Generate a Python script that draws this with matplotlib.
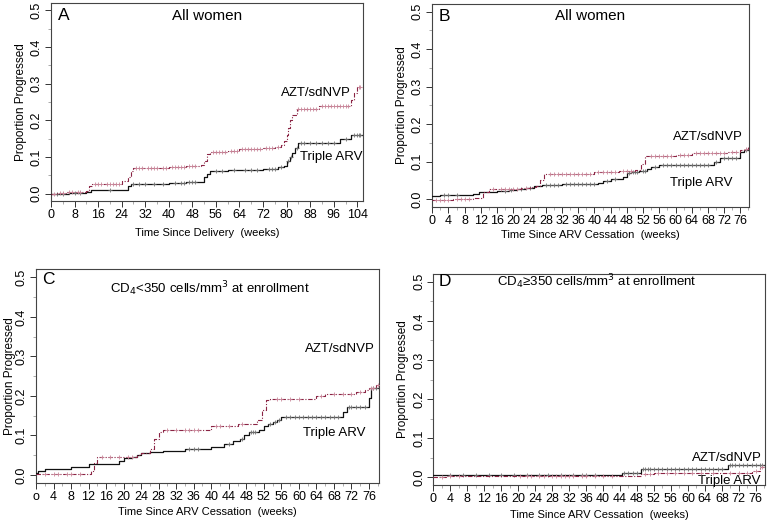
import numpy as np
import matplotlib
matplotlib.use("Agg")
import matplotlib.pyplot as plt
from matplotlib.ticker import MultipleLocator

plt.rcParams['font.family'] = ['Liberation Sans', 'DejaVu Sans']

# ---- data: step curves (time in weeks, proportion progressed) ----
# panel A, time since delivery
A_azt_t = [0, 2, 5, 8, 12, 13, 14, 24, 26, 27, 28, 40, 46, 51, 52, 53, 54, 60, 64, 72, 76,
           78, 79, 80, 80.5, 81, 82, 83.5, 91, 102, 103, 104]
A_azt_y = [0, 0.002, 0.004, 0.006, 0.008, 0.02, 0.028, 0.034, 0.045, 0.062, 0.07, 0.073, 0.076,
           0.079, 0.09, 0.108, 0.115, 0.118, 0.121, 0.124, 0.127, 0.133, 0.145, 0.16, 0.18, 0.2,
           0.215, 0.232, 0.24, 0.255, 0.275, 0.29]
A_azt_cens = [1, 3, 4, 6, 7, 9, 10, 15, 16, 17, 19, 20, 21, 22, 23, 29, 30, 31, 33, 34, 35, 36, 38,
              39, 41, 42, 43, 44, 45, 47, 48, 49, 55, 56, 57, 58, 59, 61, 62, 63, 65, 66, 67, 68,
              69, 70, 71, 73, 74, 75, 77, 84, 85, 86, 87, 88, 89, 90, 92, 93, 94, 95, 96, 97, 98,
              99, 100, 101, 104.5, 105]
A_tri_t = [0, 6, 12, 13.5, 26, 27, 40, 46, 50, 52, 53, 54, 60, 64, 72, 77, 79, 80, 81, 82, 83, 84,
           98, 102]
A_tri_y = [0, 0.003, 0.005, 0.01, 0.02, 0.026, 0.029, 0.031, 0.033, 0.045, 0.055, 0.061, 0.064,
           0.066, 0.068, 0.072, 0.077, 0.09, 0.1, 0.11, 0.125, 0.138, 0.15, 0.16]
A_tri_cens = [2, 4, 8, 10, 20, 28, 30, 32, 35, 38, 42, 44, 45, 47, 48, 49, 56, 58, 62, 66, 68, 70,
              74, 75, 76, 78, 80.5, 81.5, 83.5, 85, 86, 88, 90, 92, 94, 96, 100, 103, 104, 104.5, 105]
A_end = 105.5

# panel B, time since ARV cessation
B_azt_t = [0, 5, 10, 12.5, 14, 22, 24, 25.5, 26.5, 27.5, 40, 46, 50, 51.5, 52.5, 60, 64, 73, 76,
           77, 78]
B_azt_y = [-0.002, 0.0, 0.004, 0.019, 0.026, 0.03, 0.033, 0.036, 0.05, 0.068, 0.073, 0.076, 0.078,
           0.095, 0.115, 0.118, 0.122, 0.125, 0.13, 0.135, 0.14]
B_azt_cens = [1, 2, 3, 4, 6, 7, 8, 9, 15, 17, 18, 19, 20, 21, 23, 29, 30, 31, 32, 33, 34, 35, 36,
              37, 38, 39, 41, 42, 43, 44, 45, 47, 48, 49, 54, 55, 56, 57, 58, 59, 61, 62, 63, 65,
              66, 67, 68, 69, 70, 71, 72, 74, 75, 77.5]
B_tri_t = [0, 2, 8, 10, 11.5, 16, 19, 21, 23, 25, 27, 32, 41, 42, 44, 46, 47, 48, 49, 51, 53, 54,
           56, 69.5, 71, 76, 77]
B_tri_y = [0.008, 0.01, 0.012, 0.015, 0.02, 0.022, 0.025, 0.028, 0.03, 0.035, 0.037, 0.04, 0.042,
           0.048, 0.053, 0.055, 0.06, 0.07, 0.073, 0.075, 0.08, 0.085, 0.09, 0.1, 0.11, 0.125, 0.13]
B_tri_cens = [3, 4, 6, 18, 19.5, 22, 24, 28, 29, 30, 31, 33, 34, 35, 36, 37, 38, 39, 40, 43, 45,
              48.5, 49.5, 50, 50.5, 52, 52.5, 55, 57, 58, 59, 60, 61, 62, 63, 64, 65, 66, 67, 68,
              70, 72, 73, 74, 75, 77.5]
B_end = 78

# panel C, CD4 < 350
C_azt_t = [0, 12.5, 13.2, 14, 20, 23, 24, 26, 27, 28, 29, 40, 46, 50.5, 51.5, 52.5, 53.5, 64, 66,
           73, 75, 76, 77.5]
C_azt_y = [0.003, 0.01, 0.03, 0.045, 0.046, 0.05, 0.055, 0.066, 0.09, 0.109, 0.115, 0.125, 0.13,
           0.14, 0.165, 0.19, 0.193, 0.2, 0.205, 0.21, 0.215, 0.22, 0.228]
C_azt_cens = [2, 4, 5, 7, 8, 10, 15, 17, 19, 21, 22, 30, 32, 34, 35, 36, 37, 41, 42, 44, 47, 55,
              56, 58, 60, 65, 68, 70, 72, 74, 76.5, 77, 78]
C_tri_t = [0, 0.5, 2, 8, 12, 19, 20, 22, 23, 24, 26, 29, 34, 40, 43, 45, 46.5, 47.5, 48.5, 51, 52,
           53, 54, 55, 56, 70, 71, 76, 76.5]
C_tri_y = [0.005, 0.01, 0.015, 0.02, 0.028, 0.035, 0.042, 0.045, 0.05, 0.055, 0.058, 0.062, 0.066,
           0.072, 0.078, 0.085, 0.09, 0.1, 0.11, 0.115, 0.125, 0.13, 0.135, 0.14, 0.148, 0.16,
           0.172, 0.195, 0.22]
C_tri_cens = [35, 36, 37, 44, 47, 49, 49.5, 50, 53.5, 54.5, 55.5, 57, 58, 59, 60, 61, 62, 63, 64,
              65, 66, 67, 68, 69, 71.5, 72, 73, 74, 75, 77, 77.5]
C_end = 78

# panel D, CD4 >= 350
D_azt_t = [0, 3, 20, 49, 52, 75, 77]
D_azt_y = [0.0, 0.002, 0.004, 0.008, 0.01, 0.015, 0.025]
D_azt_cens = [2, 4, 6, 20.5, 22, 23, 25, 26, 28, 29, 30, 31, 32, 33, 35, 36, 38, 40, 42, 50, 51,
              53, 55, 57, 59, 61, 63, 66, 70, 72, 74, 76, 77.5]
D_tri_t = [0, 44.5, 49, 69.5]
D_tri_y = [0.006, 0.012, 0.02, 0.032]
D_tri_cens = [4, 7, 10, 13, 16, 19, 22, 25, 27, 30, 33, 35, 36, 38, 45, 46, 47, 48, 49.5, 50,
              50.5, 51, 52, 53, 54, 55, 56, 57, 58, 59, 60, 61, 62, 63, 64, 65, 66, 67, 68, 70,
              70.5, 71, 72, 73, 74, 75, 76, 77, 77.5]
D_end = 78

panels = [
    dict(label="A", title="All women", tsize=11, xlab="Time Since Delivery  (weeks)",
         azt=(A_azt_t, A_azt_y, A_azt_cens), tri=(A_tri_t, A_tri_y, A_tri_cens), end=A_end,
         xmax=106, major=8, pos=[0.0665, 0.614, 0.407, 0.380], ylpad=3, xlpad=5,
         azt_txt=(90, 0.275), tri_txt=(95, 0.101), lab_xy=(4.3, 0.486), title_xy=(53, 0.486)),
    dict(label="B", title="All women", tsize=11, xlab="Time Since ARV Cessation  (weeks)",
         azt=(B_azt_t, B_azt_y, B_azt_cens), tri=(B_tri_t, B_tri_y, B_tri_cens), end=B_end,
         xmax=78.2, major=4, pos=[0.5636, 0.6033, 0.4133, 0.389], ylpad=3, xlpad=2,
         azt_txt=(68, 0.165), tri_txt=(66.4, 0.044), lab_xy=(2.9, 0.488), title_xy=(39, 0.488)),
    dict(label="C", title="CD$_4$<350 cells/mm$^3$ at enrollment", tsize=9.5,
         xlab="Time Since ARV Cessation  (weeks)",
         azt=(C_azt_t, C_azt_y, C_azt_cens), tri=(C_tri_t, C_tri_y, C_tri_cens), end=C_end,
         xmax=78.2, major=4, pos=[0.0469, 0.073, 0.4468, 0.41], ylpad=0, xlpad=3,
         azt_txt=(69.3, 0.318), tri_txt=(68.1, 0.107), lab_xy=(2.9, 0.495), title_xy=(39.8, 0.472)),
    dict(label="D", title="CD$_4$≥350 cells/mm$^3$ at enrollment", tsize=9.5,
         xlab="Time Since ARV Cessation  (weeks)",
         azt=(D_azt_t, D_azt_y, D_azt_cens), tri=(D_tri_t, D_tri_y, D_tri_cens), end=D_end,
         xmax=78.2, major=4, pos=[0.565, 0.069, 0.4325, 0.405], ylpad=3, xlpad=3,
         azt_txt=(69.3, 0.048), tri_txt=(69.7, -0.009), lab_xy=(2.8, 0.5), title_xy=(38.6, 0.5)),
]

AZT_LINE = "#8a2444"
AZT_MARK = "#c9879a"
TRI_LINE = "#111111"
TRI_MARK = "#707070"


def step_value(t, y, at):
    idx = np.searchsorted(np.asarray(t), np.asarray(at), side="right") - 1
    return np.asarray(y)[np.clip(idx, 0, len(y) - 1)]


fig = plt.figure(figsize=(7.67, 5.21), dpi=100)

for p in panels:
    ax = fig.add_axes(p["pos"])
    # Triple ARV
    t, y, cens = p["tri"]
    tt = list(t) + [p["end"]]
    yy = list(y) + [y[-1]]
    ax.step(tt, yy, where="post", color=TRI_LINE, lw=0.9, zorder=3)
    ax.plot(cens, step_value(t, y, cens), ls="none", marker="+", ms=3.5, mew=0.6,
            color=TRI_MARK, zorder=4)
    # AZT/sdNVP
    t, y, cens = p["azt"]
    tt = list(t) + [p["end"]]
    yy = list(y) + [y[-1]]
    ax.step(tt, yy, where="post", color=AZT_LINE, lw=0.8, ls=(0, (4, 1.5, 1, 1.5)), zorder=5)
    ax.plot(cens, step_value(t, y, cens), ls="none", marker="+", ms=3.5, mew=0.6,
            color=AZT_MARK, zorder=6)

    ax.set_xlim(0, p["xmax"])
    ax.set_ylim(-0.02, 0.52)
    ax.xaxis.set_major_locator(MultipleLocator(p["major"]))
    ax.xaxis.set_minor_locator(MultipleLocator(p["major"] / 2))
    ax.yaxis.set_minor_locator(MultipleLocator(0.05))
    ax.set_yticks(np.arange(0, 0.51, 0.1))
    ax.set_yticklabels(["%.1f" % v for v in np.arange(0, 0.51, 0.1)], rotation=90, va="center")
    if p["label"] == "C":
        labs = ["o"] + [str(int(v)) for v in np.arange(4, 77, 4)]
        ax.set_xticks(np.arange(0, 77, 4))
        ax.set_xticklabels(labs)
    ax.tick_params(axis="both", which="major", labelsize=9, length=4, width=0.7,
                   color="#333333", pad=2)
    ax.tick_params(axis="both", which="minor", length=2, width=0.5, color="#888888")
    for s in ax.spines.values():
        s.set_color("#444444")
        s.set_linewidth(0.8)
    ax.set_ylabel("Proportion Progressed", fontsize=8.5, labelpad=p["ylpad"])
    ax.set_xlabel(p["xlab"], fontsize=8, labelpad=p["xlpad"])

    ax.text(*p["lab_xy"], p["label"], fontsize=12.5, ha="center", va="center")
    ax.text(*p["title_xy"], p["title"], fontsize=p["tsize"], ha="center", va="center")
    ax.text(*p["azt_txt"], "AZT/sdNVP", fontsize=9.5, ha="center", va="center")
    ax.text(*p["tri_txt"], "Triple ARV", fontsize=9.5, ha="center", va="center")

fig.savefig("out.png", dpi=100)
